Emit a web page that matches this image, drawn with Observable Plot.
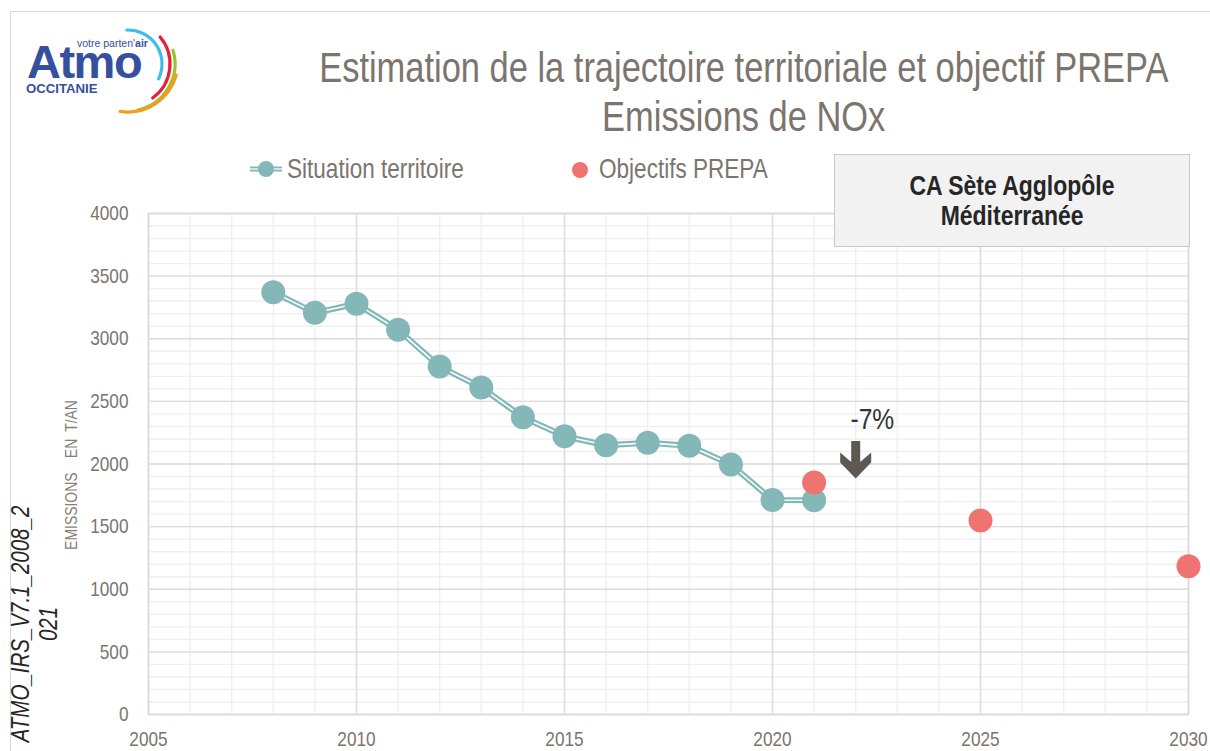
<!DOCTYPE html>
<html><head><meta charset="utf-8">
<script src="https://cdn.jsdelivr.net/npm/d3@7"></script>
<script src="https://cdn.jsdelivr.net/npm/@observablehq/plot@0.6"></script>
<style>
html,body{margin:0;padding:0;background:#fff;}
#wrap{position:relative;width:1210px;height:751px;overflow:hidden;background:#fff;}
#wrap svg.plot{position:absolute;left:0;top:0;}
.ov{position:absolute;white-space:pre;}
.nar{display:inline-block;transform:scaleX(0.82);}
</style></head><body>
<div id="wrap"></div>
<script>
// ---------- data ----------
const years = [2008, 2009, 2010, 2011, 2012, 2013, 2014, 2015, 2016, 2017, 2018, 2019, 2020, 2021];
const situationValues = [3372, 3207, 3279, 3071, 2778, 2611, 2374, 2222, 2150, 2169, 2145, 1996, 1712, 1710];
const prepaYears = [2021, 2025, 2030];
const prepaValues = [1852, 1549, 1184];
const xTicks = [2005, 2010, 2015, 2020, 2025, 2030];
const yTicks = [0, 500, 1000, 1500, 2000, 2500, 3000, 3500, 4000];
const annotationYears = [2022];
const arrowValues = [2040];
const annotationLabels = ["-7%"];
const annotationLabelValues = [2283];

const seriesNames = ["Situation territoire", "Objectifs PREPA"];
const titleLines = ["Estimation de la trajectoire territoriale et objectif PREPA", "Emissions de NOx"];
const boxLines = ["CA Sète Agglopôle", "Méditerranée"];
const yLabel = "EMISSIONS  EN T/AN";
const sourceLines = ["ATMO_IRS_V7.1_2008_2", "021"];

// ---------- styles ----------
const NF = "'Liberation Sans',Arial,sans-serif";
const SX = 0.82; // narrow-font emulation
const TEAL = "#84b8b8";
const RED = "#ef7371";
const GREY = "#7b756e";

const situation = years.map((y, i) => ({year: y, value: situationValues[i]}));
const prepa = prepaYears.map((y, i) => ({year: y, value: prepaValues[i]}));
const arrows = annotationYears.map((y, i) => ({year: y, value: arrowValues[i]}));
const labels = annotationYears.map((y, i) => ({year: y + 0.4, value: annotationLabelValues[i], text: annotationLabels[i]}));

const minorX = d3.range(xTicks[0], xTicks[xTicks.length - 1] + 1, 1);
const minorY = d3.range(yTicks[0], yTicks[yTicks.length - 1] + 1, 100);

const arrowSymbol = {
  draw(ctx) {
    ctx.moveTo(-4.5, -18);
    ctx.lineTo(4.5, -18);
    ctx.lineTo(4.5, 3);
    ctx.lineTo(15.5, -6.5);
    ctx.lineTo(15.5, 3.5);
    ctx.lineTo(0, 19.5);
    ctx.lineTo(-15.5, 3.5);
    ctx.lineTo(-15.5, -6.5);
    ctx.lineTo(-4.5, 3);
    ctx.closePath();
  }
};

const chart = Plot.plot({
  width: 1210,
  height: 751,
  marginLeft: 148,
  marginRight: 22,
  marginTop: 213,
  marginBottom: 37,
  style: {fontFamily: NF, fontSize: "21px", color: GREY, background: "transparent"},
  x: {domain: [xTicks[0], xTicks[xTicks.length - 1]]},
  y: {domain: [yTicks[0], yTicks[yTicks.length - 1]]},
  marks: [
    Plot.gridX(minorX, {stroke: "#efefef", strokeOpacity: 1, strokeWidth: 1.4}),
    Plot.gridY(minorY, {stroke: "#efefef", strokeOpacity: 1, strokeWidth: 1.4}),
    Plot.gridX(xTicks, {stroke: "#dcdcdc", strokeOpacity: 1, strokeWidth: 1.4}),
    Plot.gridY(yTicks, {stroke: "#dcdcdc", strokeOpacity: 1, strokeWidth: 1.4}),
    Plot.frame({stroke: "#d9d9d9", strokeWidth: 1.4}),
    Plot.axisX(xTicks, {tickSize: 0, tickPadding: 17, tickFormat: d => String(d), label: null, fontSize: 21}),
    Plot.axisY(yTicks, {tickSize: 0, tickPadding: 20, tickFormat: d => String(d), label: null, fontSize: 21}),
    Plot.line(situation, {x: "year", y: "value", stroke: TEAL, strokeWidth: 6}),
    Plot.line(situation, {x: "year", y: "value", stroke: "#fff", strokeWidth: 1.6}),
    Plot.dot(situation, {x: "year", y: "value", r: 12, fill: TEAL}),
    Plot.dot(prepa, {x: "year", y: "value", r: 12, fill: RED}),
    Plot.dot(arrows, {x: "year", y: "value", symbol: arrowSymbol, r: 10, fill: "#5e5853"}),
    Plot.text(labels, {x: "year", y: "value", text: "text", lineAnchor: "bottom", textAnchor: "middle", fontSize: 30, fill: "#333333"})
  ]
});
chart.classList.add("plot");
// emulate a narrow font: compress every text horizontally around its anchor
chart.querySelectorAll("text").forEach(t => {
  const tr = t.getAttribute("transform") || "";
  t.setAttribute("transform", (tr + ` scale(${SX},1)`).trim());
});

const wrap = document.getElementById("wrap");

// outer chart frame
const frame = document.createElement("div");
frame.className = "ov";
Object.assign(frame.style, {left: "10px", top: "11px", width: "1240px", height: "780px", border: "1px solid #d9d9d9", boxSizing: "border-box"});
wrap.appendChild(frame);

wrap.appendChild(chart);

function addText(text, css, origin) {
  const d = document.createElement("div");
  d.className = "ov";
  const s = document.createElement("span");
  s.className = "nar";
  s.style.transformOrigin = origin || "center";
  s.textContent = text;
  d.appendChild(s);
  Object.assign(d.style, {fontFamily: NF}, css);
  wrap.appendChild(d);
  return d;
}

// title (centred at x = 744)
titleLines.forEach((t, i) => {
  addText(t, {left: "94px", width: "1300px", textAlign: "center", top: (44 + i * 49) + "px", fontSize: "42px", lineHeight: "48px", color: GREY});
});

// legend
const leg = document.createElementNS("http://www.w3.org/2000/svg", "svg");
leg.setAttribute("width", "1210");
leg.setAttribute("height", "40");
leg.style.position = "absolute";
leg.style.left = "0px";
leg.style.top = "150px";
leg.innerHTML = `
  <line x1="250" x2="282" y1="19" y2="19" stroke="${TEAL}" stroke-width="5"/>
  <line x1="250" x2="282" y1="19" y2="19" stroke="#fff" stroke-width="1.3"/>
  <circle cx="266" cy="19" r="8" fill="${TEAL}"/>
  <circle cx="580" cy="20" r="8" fill="${RED}"/>`;
wrap.appendChild(leg);
addText(seriesNames[0], {left: "287px", top: "153px", fontSize: "27.5px", lineHeight: "32px", color: GREY}, "left");
addText(seriesNames[1], {left: "599px", top: "153px", fontSize: "27.5px", lineHeight: "32px", color: GREY}, "left");

// box
const box = document.createElement("div");
box.className = "ov";
Object.assign(box.style, {left: "834px", top: "154px", width: "356px", height: "93px", background: "#f2f2f2", border: "1.5px solid #c9c9c9", boxSizing: "border-box", display: "flex", flexDirection: "column", justifyContent: "center", alignItems: "center", fontFamily: NF, fontWeight: "bold", fontSize: "28px", lineHeight: "30px", color: "#262626"});
box.innerHTML = boxLines.map(l => `<div><span class="nar">${l}</span></div>`).join("");
wrap.appendChild(box);

// y axis label (rotated)
const yl = document.createElement("div");
yl.className = "ov";
yl.textContent = yLabel;
Object.assign(yl.style, {left: "72px", top: "475px", transform: `translate(-50%,-50%) rotate(-90deg) scaleX(${SX})`, fontFamily: NF, fontSize: "17px", lineHeight: "20px", color: "#877f77", wordSpacing: "4px"});
wrap.appendChild(yl);

// source label (rotated, italic)
const src = document.createElement("div");
src.className = "ov";
Object.assign(src.style, {left: "34px", top: "624px", transform: `translate(-50%,-50%) rotate(-90deg) scaleX(${SX})`, fontFamily: NF, fontStyle: "italic", fontSize: "25px", lineHeight: "28px", color: "#262626", textAlign: "center"});
src.innerHTML = sourceLines.map(l => `<div>${l}</div>`).join("");
wrap.appendChild(src);

// logo
const logo = document.createElementNS("http://www.w3.org/2000/svg", "svg");
logo.setAttribute("width", "200");
logo.setAttribute("height", "120");
logo.style.position = "absolute";
logo.style.left = "0px";
logo.style.top = "0px";
function arcPath(cx, cy, r, a0, a1) {
  const p = a => [cx + r * Math.cos(a * Math.PI / 180), cy + r * Math.sin(a * Math.PI / 180)];
  const [x0, y0] = p(a0), [x1, y1] = p(a1);
  return `M${x0},${y0} A${r},${r} 0 ${a1 - a0 > 180 ? 1 : 0} 1 ${x1},${y1}`;
}
logo.innerHTML = `
  <path d="${arcPath(128, 64, 34, -92, 26)}" fill="none" stroke="#3dbde8" stroke-width="3.2" stroke-linecap="round"/>
  <path d="${arcPath(128, 64, 42, -40, 54)}" fill="none" stroke="#e2233a" stroke-width="3.2" stroke-linecap="round"/>
  <path d="${arcPath(128, 64, 47, -17, 78)}" fill="none" stroke="#9dc32b" stroke-width="3.2" stroke-linecap="round"/>
  <path d="${arcPath(128, 62, 50, 15, 99)}" fill="none" stroke="#f39c1f" stroke-width="3.2" stroke-linecap="round"/>
  <text x="27" y="78" font-family="Liberation Sans, Arial, sans-serif" font-weight="bold" font-size="47" fill="#34509e" letter-spacing="-1.5">Atmo</text>
  <text x="77" y="47" font-family="Liberation Sans, Arial, sans-serif" font-size="10.5" fill="#34509e">votre parten'<tspan font-weight="bold">air</tspan></text>
  <text x="26" y="93" font-family="Liberation Sans, Arial, sans-serif" font-weight="bold" font-size="13.2" fill="#34509e">OCCITANIE</text>`;
wrap.appendChild(logo);
</script>
</body></html>
